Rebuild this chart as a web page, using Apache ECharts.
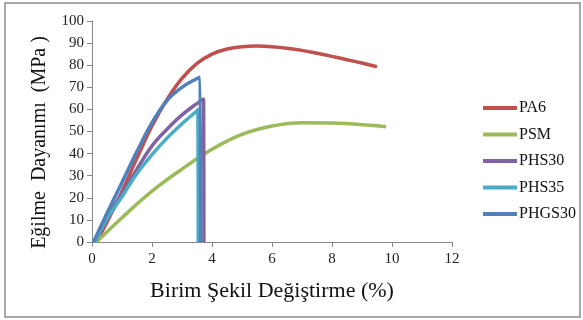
<!DOCTYPE html>
<html>
<head>
<meta charset="utf-8">
<script src="https://cdn.jsdelivr.net/npm/echarts@6/dist/echarts.min.js"></script>
<style>
html,body{margin:0;padding:0;background:#fff;}
#chart{width:583px;height:320px;}
</style>
</head>
<body>
<div id="chart"></div>
<script>
var names = ['PA6', 'PSM', 'PHS30', 'PHS35', 'PHGS30'];
var colors = ['#C0504D', '#9BBB59', '#8064A2', '#4BACC6', '#4F81BD'];

var pa6X = [0.14, 0.5, 1, 1.5, 2, 2.5, 3, 3.5, 4, 4.5, 5, 5.5, 6, 6.5, 7, 7.5, 8, 8.5, 9, 9.5];
var pa6Y = [0, 9, 23, 38, 52.5, 64.5, 74, 80.8, 85, 87.3, 88.4, 88.7, 88.4, 87.7, 86.7, 85.4, 84, 82.5, 81, 79.3];

var psmX = [0.15, 1, 2, 3, 4, 5, 6, 7, 8, 9, 9.8];
var psmY = [0, 11, 23, 33, 42, 48.7, 52.5, 54, 53.8, 53.1, 52.2];

var phs30X = [0.1, 0.5, 1, 1.5, 2, 2.5, 3, 3.55, 3.72, 3.73];
var phs30Y = [0, 11, 22, 33, 43.5, 51, 57.5, 63.2, 64.7, 0];

var phs35X = [0.1, 0.5, 1, 1.5, 2, 2.5, 3, 3.5, 3.53, 3.54];
var phs35Y = [0, 10.5, 20.5, 31, 39.5, 47, 53.5, 59.4, 60, 0];

var phgs30X = [0.05, 0.5, 1, 1.5, 2, 2.5, 3, 3.5, 3.6, 3.62];
var phgs30Y = [0, 13, 27, 41, 54, 64, 70, 74, 74.6, 0];

var xTicks = [0, 2, 4, 6, 8, 10, 12];
var yTicks = [0, 10, 20, 30, 40, 50, 60, 70, 80, 90, 100];

function pairs(xs, ys) {
    var out = [];
    for (var i = 0; i < xs.length; i++) out.push([xs[i], ys[i]]);
    return out;
}

var allX = [pa6X, psmX, phs30X, phs35X, phgs30X];
var allY = [pa6Y, psmY, phs30Y, phs35Y, phgs30Y];

var serif = 'Liberation Serif, Times New Roman, serif';
var series = [];
for (var s = 0; s < names.length; s++) {
    series.push({
        name: names[s],
        type: 'line',
        data: pairs(allX[s], allY[s]),
        smooth: 0.4,
        showSymbol: false,
        symbol: 'none',
        lineStyle: {color: colors[s], width: 3.5},
        itemStyle: {color: colors[s]}
    });
}

var axisGray = '#868686';
var option = {
    animation: false,
    backgroundColor: '#fff',
    color: colors,
    grid: {left: 92, right: 131, top: 21, bottom: 78},
    graphic: [{
        type: 'rect',
        shape: {x: 5, y: 3, width: 575, height: 314},
        style: {fill: 'none', stroke: '#8c8c8c', lineWidth: 1.5},
        silent: true
    }],
    legend: {
        orient: 'vertical',
        left: 483,
        top: 100,
        padding: 0,
        itemWidth: 34,
        itemHeight: 4,
        itemGap: 10.5,
        icon: 'rect',
        data: names,
        textStyle: {fontFamily: serif, fontSize: 16, color: '#111', padding: [0, 0, 0, -3]}
    },
    xAxis: {
        type: 'value',
        min: xTicks[0],
        max: xTicks[xTicks.length - 1],
        interval: 2,
        name: 'Birim Şekil Değiştirme (%)',
        nameLocation: 'middle',
        nameGap: 38,
        nameTextStyle: {fontFamily: serif, fontSize: 22, color: '#111'},
        axisLine: {show: true, lineStyle: {color: axisGray}},
        axisTick: {show: true, inside: false, length: 5, lineStyle: {color: axisGray}},
        axisLabel: {fontFamily: serif, fontSize: 15, color: '#222', margin: 10},
        splitLine: {show: false}
    },
    yAxis: {
        type: 'value',
        min: yTicks[0],
        max: yTicks[yTicks.length - 1],
        interval: 10,
        name: 'Eğilme  Dayanımı  (MPa )',
        nameLocation: 'middle',
        nameGap: 42,
        nameTextStyle: {fontFamily: serif, fontSize: 20, color: '#111', padding: [0, 22, 0, 0]},
        axisLine: {show: true, lineStyle: {color: axisGray}},
        axisTick: {show: true, inside: false, length: 5, lineStyle: {color: axisGray}},
        axisLabel: {fontFamily: serif, fontSize: 15, color: '#222', margin: 8},
        splitLine: {show: false}
    },
    series: series
};

var chart = echarts.init(document.getElementById('chart'));
chart.setOption(option);
</script>
</body>
</html>
